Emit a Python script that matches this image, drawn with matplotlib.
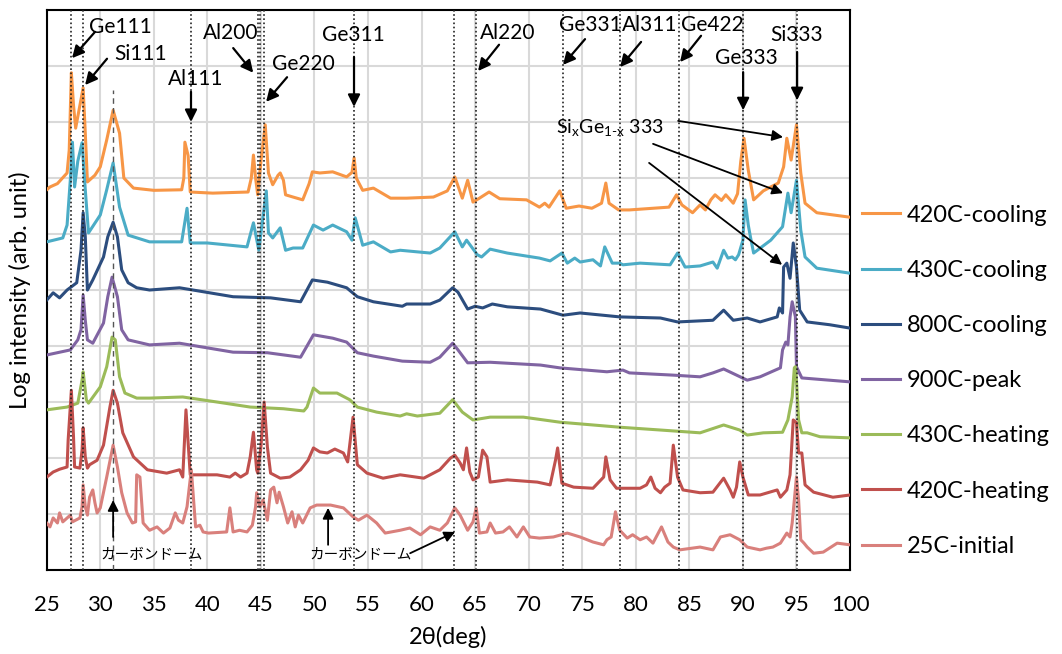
import matplotlib
matplotlib.use("Agg")
import matplotlib.pyplot as plt

plt.rcParams['font.family'] = ['Lato', 'Noto Sans CJK JP', 'DejaVu Sans']
plt.rcParams['mathtext.fontset'] = 'custom'
plt.rcParams['mathtext.rm'] = 'Lato'

# ---------------- data (2theta in deg, log intensity in decades, stacked) -----
labels = ['420C-cooling', '430C-cooling', '800C-cooling', '900C-peak',
          '430C-heating', '420C-heating', '25C-initial']
colors = ['#F79646', '#4BACC6', '#2C4D7E', '#8064A2', '#9BBB59', '#C0504D', '#D9807C']

c420_x = [25.0,25.3,26.0,26.9,27.1,27.3,27.5,27.7,28.1,28.4,28.6,28.8,29.5,30.0,30.6,31.2,31.8,32.2,33.1,35.0,37.6,37.8,37.9,38.2,38.4,40.5,43.8,44.1,44.3,44.5,44.7,45.0,45.4,45.7,46.1,46.6,46.8,47.1,47.3,48.0,48.9,49.5,49.8,50.5,51.7,53.0,53.5,53.7,53.9,54.5,55.5,57.1,58.6,61.1,62.4,63.1,63.8,64.3,64.8,65.4,66.3,67.3,69.8,71.0,71.5,71.9,72.9,73.5,74.7,75.9,76.8,77.2,77.5,78.4,79.4,83.1,83.8,84.3,85.3,86.0,86.5,87.0,87.4,88.0,88.4,89.1,89.5,89.8,90.1,90.5,91.0,91.9,93.3,93.8,94.1,94.5,95.0,95.4,95.8,96.9,100]
c420_y = [6.79,6.84,6.9,7.09,7.5,8.88,8.3,7.89,8.3,8.61,7.8,6.93,7.05,7.2,7.68,8.21,7.8,7.0,6.82,6.78,6.79,7.0,7.64,7.4,6.75,6.73,6.75,7.0,7.41,7.0,6.70,7.3,7.95,7.09,6.88,7.05,7.09,6.96,6.70,6.66,6.61,6.9,7.11,7.09,7.11,7.02,7.1,7.36,7.0,6.78,6.82,6.64,6.64,6.66,6.77,7.02,6.64,6.96,6.57,6.64,6.75,6.63,6.61,6.48,6.55,6.48,6.77,6.46,6.5,6.46,6.55,6.91,6.55,6.43,6.43,6.48,6.70,6.52,6.38,6.52,6.43,6.61,6.70,6.6,6.70,6.55,6.72,7.3,7.71,7.14,6.61,6.77,6.91,7.2,7.71,7.32,7.95,7.09,6.55,6.38,6.30]

c430_x = [25.0,26.5,26.9,27.2,27.4,27.6,27.9,28.3,28.6,28.9,30.0,30.6,31.2,31.8,32.6,34.6,37.6,38.1,38.4,40.0,43.7,44.3,44.8,45.5,45.7,46.1,46.8,47.3,48.0,48.9,49.9,50.8,51.7,53.0,53.5,53.8,54.5,55.5,57.1,58.0,60.8,61.7,63.1,63.8,64.2,65.2,65.6,66.4,68.0,71.0,72.0,73.1,73.6,74.3,74.8,76.0,76.7,77.1,77.8,78.5,78.8,80.4,83.2,83.9,84.6,86.0,87.2,87.6,88.2,88.6,89.0,89.3,89.6,90.0,90.2,90.5,90.7,91.0,92.6,93.7,94.2,94.5,95.0,95.4,95.8,96.9,100]
c430_y = [5.86,5.93,6.16,6.96,7.64,6.84,7.3,7.63,6.79,6.02,6.34,6.79,7.27,6.48,5.98,5.86,5.86,6.46,5.84,5.84,5.77,6.2,5.71,6.77,6.02,5.93,6.11,5.71,5.75,5.75,6.16,6.07,6.16,6.04,5.89,6.29,5.8,5.86,5.68,5.71,5.66,5.75,6.04,5.77,5.89,5.63,5.59,5.73,5.66,5.57,5.52,5.66,5.48,5.57,5.5,5.54,5.43,5.77,5.48,5.48,5.45,5.48,5.45,5.66,5.41,5.43,5.5,5.39,5.71,5.57,5.59,5.54,5.63,5.89,6.61,6.16,5.95,5.66,5.89,6.13,6.73,6.38,6.96,6.07,5.59,5.39,5.3]

c800_x = [25.0,25.6,26.2,26.9,27.8,28.2,28.4,28.6,28.8,29.3,30.3,30.7,31.2,31.6,32.0,32.6,33.4,34.6,37.4,42.4,45.9,48.7,49.8,51.2,53.0,54.0,55.5,58.2,58.6,60.8,61.7,62.9,63.4,64.3,65.0,65.7,66.6,68.0,71.1,73.2,74.8,78.5,82.3,83.9,87.2,88.2,89.1,90.4,91.6,93.2,93.4,93.7,93.8,94.1,94.4,94.7,95.0,95.3,96.0,98.1,100]
c800_y = [4.82,4.95,4.86,5.0,5.13,5.71,6.38,5.95,5.0,5.18,5.59,5.95,6.21,5.95,5.36,5.13,5.04,5.0,5.04,4.88,4.86,4.79,5.18,5.14,5.04,4.88,4.79,4.71,4.75,4.75,4.82,5.04,4.96,4.66,4.71,4.68,4.75,4.7,4.66,4.55,4.59,4.52,4.5,4.43,4.46,4.64,4.46,4.5,4.43,4.52,4.68,4.59,5.41,5.48,5.21,5.84,5.41,4.64,4.43,4.38,4.32]

c900_x = [25.0,27.2,27.9,28.2,28.4,28.6,28.8,29.3,30.3,30.7,31.1,31.6,32.0,32.6,34.6,37.4,42.4,45.6,48.7,49.9,51.7,53.0,54.0,55.5,58.2,60.8,61.7,62.9,63.4,64.3,66.4,71.1,72.9,77.3,78.8,79.4,83.5,86.0,87.2,88.2,90.4,91.6,93.5,93.7,94.0,94.2,94.4,94.6,94.9,95.0,95.5,100]
c900_y = [3.84,3.93,4.11,4.29,4.91,4.46,4.11,4.05,4.41,4.88,5.23,4.88,4.29,4.11,4.02,4.05,3.89,3.88,3.8,4.2,4.14,4.07,3.88,3.82,3.73,3.71,3.8,4.05,3.93,3.7,3.71,3.66,3.61,3.54,3.57,3.52,3.48,3.45,3.52,3.59,3.39,3.45,3.61,3.93,4.07,4.02,4.52,4.79,4.52,3.63,3.43,3.36]

h430_x = [25.0,26.9,27.9,28.3,28.4,28.7,28.9,30.0,30.6,31.1,31.4,31.8,32.3,33.4,34.6,37.7,40.9,44.0,47.1,49.0,49.3,49.9,50.5,52.1,53.3,54.0,55.8,58.0,58.6,59.6,61.7,62.9,63.8,64.8,66.4,69.5,72.9,78.5,82.3,86.0,88.2,89.7,90.4,91.9,93.7,94.2,94.6,94.8,94.9,95.0,95.2,95.5,96.0,97.2,100]
h430_y = [2.86,2.91,2.98,3.39,3.54,3.04,2.98,3.27,3.63,4.16,4.11,3.45,3.16,3.07,3.07,3.09,3.0,2.91,2.88,2.84,2.91,3.25,3.16,3.16,3.04,2.91,2.82,2.75,2.79,2.75,2.8,3.04,2.82,2.68,2.73,2.73,2.64,2.55,2.5,2.45,2.59,2.5,2.41,2.45,2.46,2.68,3.09,3.61,3.63,3.39,2.68,2.45,2.45,2.38,2.36]

h420_x = [25.0,25.6,26.2,26.9,27.0,27.3,27.5,27.6,28.1,28.3,28.4,28.6,28.8,29.0,29.7,30.3,30.9,31.2,31.6,32.1,33.1,34.4,36.2,37.4,37.7,38.0,38.4,40.9,42.1,42.6,43.1,43.7,44.0,44.3,44.6,44.7,45.0,45.3,45.6,45.9,46.8,47.7,48.7,49.4,49.9,50.5,51.2,51.9,52.7,53.1,53.6,54.0,54.9,56.4,58.0,60.2,61.7,62.7,63.1,63.6,63.9,64.2,64.5,64.8,65.3,65.7,66.1,66.4,68.0,70.8,72.0,72.5,72.7,73.1,74.2,76.0,77.0,77.2,77.6,78.2,80.4,81.0,81.4,81.8,82.3,82.7,83.2,83.5,83.9,84.4,86.0,87.2,88.2,88.8,89.1,89.4,89.7,90.0,90.5,91.6,93.2,93.5,94.1,94.4,94.7,95.0,95.2,95.5,95.8,96.6,98.4,100]
h420_y = [1.66,1.75,1.8,1.84,2.32,3.21,2.38,1.84,1.82,2.14,2.54,2.02,1.82,1.88,1.96,2.23,2.91,3.21,2.98,2.45,2.02,1.79,1.73,1.79,1.66,2.86,1.7,1.7,1.66,1.73,1.66,1.73,2.02,2.46,1.79,1.73,2.2,3.0,2.2,1.73,1.64,1.66,1.79,1.96,2.18,2.11,2.09,2.16,2.09,1.93,2.73,1.88,1.73,1.64,1.7,1.64,1.79,2.0,2.05,1.91,1.79,2.18,1.75,1.61,1.66,2.14,2.02,1.57,1.61,1.57,1.52,1.96,2.18,1.55,1.48,1.46,1.66,2.02,1.61,1.46,1.46,1.52,1.66,1.46,1.38,1.48,1.55,2.23,1.66,1.43,1.38,1.39,1.64,1.43,1.3,1.48,1.93,1.66,1.34,1.34,1.43,1.3,1.43,1.7,2.68,2.63,2.09,2.09,1.52,1.39,1.3,1.34]

i25_x = [25.0,25.3,25.6,26.0,26.2,26.5,26.9,27.2,27.4,28.1,28.3,28.4,28.6,28.8,29.0,29.3,29.5,29.7,30.0,30.6,31.2,31.6,32.0,32.5,33.0,33.3,33.4,33.7,34.0,34.6,35.3,35.9,36.5,37.0,37.3,37.7,38.1,38.5,38.9,39.3,39.6,40.1,41.8,42.1,42.4,43.0,43.7,44.2,44.5,44.6,44.9,45.2,45.6,45.9,46.2,46.5,46.7,47.1,47.5,47.9,48.2,48.5,48.9,49.6,50.2,51.5,52.7,53.6,54.1,54.9,55.8,56.6,58.0,58.9,59.9,60.8,61.7,62.4,63.1,63.6,64.3,64.8,65.1,65.4,66.1,66.4,66.9,67.6,68.2,68.9,69.5,70.1,71.0,72.3,73.6,74.8,76.0,77.0,77.3,77.7,78.1,78.5,79.2,79.7,80.4,81.0,81.6,82.4,83.0,83.5,84.1,86.0,87.2,87.9,88.8,89.7,90.4,91.6,92.2,92.8,93.5,94.1,94.4,94.6,95.0,95.2,95.4,95.7,96.0,96.6,97.5,98.8,100]
i25_y = [0.84,0.77,0.93,0.84,1.02,0.86,0.93,0.98,0.86,0.93,1.13,1.52,1.13,0.98,1.3,1.43,1.2,1.02,1.11,1.66,2.23,1.84,1.38,1.02,0.84,0.86,1.7,1.66,0.84,0.71,0.77,0.66,0.75,1.02,0.89,0.84,1.13,1.79,0.77,0.8,0.68,0.66,0.68,1.11,0.68,0.71,0.68,0.8,1.13,1.38,1.13,1.25,0.89,1.43,1.48,1.2,1.39,1.13,0.84,1.04,0.77,0.98,0.84,1.11,1.16,1.16,1.11,0.95,0.89,0.98,0.84,0.66,0.71,0.75,0.63,0.77,0.71,0.84,1.11,0.98,0.71,0.86,1.11,0.66,0.68,0.84,0.66,0.68,0.77,0.59,0.77,0.59,0.57,0.59,0.66,0.59,0.5,0.45,0.54,0.59,1.04,0.71,0.57,0.63,0.54,0.59,0.48,0.77,0.5,0.41,0.36,0.41,0.36,0.59,0.63,0.54,0.41,0.36,0.39,0.41,0.48,0.66,0.59,0.84,1.66,1.25,0.54,0.48,0.41,0.3,0.32,0.48,0.45]

series_x = [c420_x, c430_x, c800_x, c900_x, h430_x, h420_x, i25_x]
series_y = [c420_y, c430_y, c800_y, c900_y, h430_y, h420_y, i25_y]

# reference peak positions (dotted lines)
ref_peaks = [27.27, 28.42, 38.47, 44.76, 44.95, 45.32, 53.69, 63.06, 65.08, 73.18, 78.53, 84.07, 90.04, 95.02]
carbon_dome_pos = 31.16

# annotations: label, text pos, arrow tail, arrow head
peak_labels = [
    ('Ge111', (31.84, 9.70), (29.51, 9.61), (27.36, 9.14)),
    ('Si111', (33.80, 9.21), (30.63, 9.13), (28.58, 8.66)),
    ('Al111', (38.95, 8.77), (38.47, 8.54), (38.47, 8.00)),
    ('Al200', (42.13, 9.59), (42.41, 9.32), (44.28, 8.88)),
    ('Ge220', (48.93, 9.04), (47.44, 8.80), (45.48, 8.36)),
    ('Ge311', (53.60, 9.55), (53.69, 9.16), (53.69, 8.27)),
    ('Al220', (68.07, 9.59), (67.23, 9.38), (65.27, 8.91)),
    ('Ge331', (75.72, 9.73), (75.26, 9.48), (73.20, 9.02)),
    ('Al311', (81.33, 9.73), (80.49, 9.43), (78.53, 8.98)),
    ('Ge422', (87.12, 9.73), (86.09, 9.54), (84.13, 9.07)),
    ('Ge333', (90.30, 9.14), (90.02, 8.89), (90.02, 8.21)),
    ('Si333', (94.97, 9.55), (95.06, 9.25), (95.06, 8.39)),
]
sige_text = (77.6, 7.89)
sige_arrows = [((83.95, 8.02), (93.75, 7.73)),
               ((81.61, 7.61), (93.75, 6.73)),
               ((81.24, 7.27), (93.66, 5.45))]
dome_texts = [(34.75, 0.27), (54.27, 0.27)]
dome_arrows = [((31.2, 0.59), (31.2, 1.25)),
               ((51.27, 0.45), (51.27, 1.11)),
               ((58.93, 0.30), (63.13, 0.68))]

xticks = list(range(25, 101, 5))

# ---------------- figure --------------------------------------------------------
fig = plt.figure(figsize=(10.62, 6.54), dpi=100)
ax = fig.add_axes([0.044, 0.1284, 0.7564, 0.8563])

for xs, ys, lab, col in zip(series_x, series_y, labels, colors):
    ax.plot(xs, ys, color=col, lw=2.2, label=lab, zorder=3, solid_joinstyle='round')

for p in ref_peaks:
    ax.axvline(p, color='#222222', lw=1.2, ls=(0, (1, 1.5)), zorder=4)
ax.plot([carbon_dome_pos, carbon_dome_pos], [0, 8.57], color='#555555', lw=1.0,
        ls=(0, (4, 3)), zorder=4)

ax.set_xlim(25, 100)
ax.set_ylim(0, 10)
ax.set_xticks(xticks)
ax.set_yticks(range(0, 11))
ax.set_yticklabels([])
ax.tick_params(axis='x', length=0, labelsize=16, pad=18)
ax.tick_params(axis='y', length=0)
ax.grid(True, color='#D9D9D9', lw=1.5, zorder=0)
ax.set_axisbelow(True)
for s in ax.spines.values():
    s.set_linewidth(1.5)
ax.set_xlabel('2θ(deg)', fontsize=17, labelpad=8)
ax.set_ylabel('Log intensity (arb. unit)', fontsize=17)
ax.yaxis.set_label_coords(-0.02, 0.5)

aprops = dict(arrowstyle='-|>', color='black', lw=1.6, mutation_scale=18,
              shrinkA=0, shrinkB=0)
for lab, tpos, tail, head in peak_labels:
    ax.text(tpos[0], tpos[1], lab, fontsize=15, ha='center', va='center', zorder=6)
    ax.annotate('', xy=head, xytext=tail, arrowprops=aprops, zorder=6)

ax.text(sige_text[0], sige_text[1], r'Si$_\mathregular{x}$Ge$_\mathregular{1\text{-}x}$ 333',
        fontsize=14, ha='center', va='center', zorder=6)
thin = dict(arrowstyle='-|>', color='black', lw=1.3, mutation_scale=16,
            shrinkA=0, shrinkB=0)
for tail, head in sige_arrows:
    ax.annotate('', xy=head, xytext=tail, arrowprops=thin, zorder=6)

for tpos in dome_texts:
    ax.text(tpos[0], tpos[1], 'カーボンドーム', fontsize=10.5, ha='center', va='center',
            family=['Noto Sans CJK JP'], zorder=6)
for tail, head in dome_arrows:
    ax.annotate('', xy=head, xytext=tail, arrowprops=thin, zorder=6)

ax.legend(loc='center left', bbox_to_anchor=(1.015, 0.338), frameon=False,
          fontsize=17, handlelength=1.6, handletextpad=0.3, labelspacing=1.45,
          borderpad=0, borderaxespad=0)

fig.savefig('out.png', dpi=100)
